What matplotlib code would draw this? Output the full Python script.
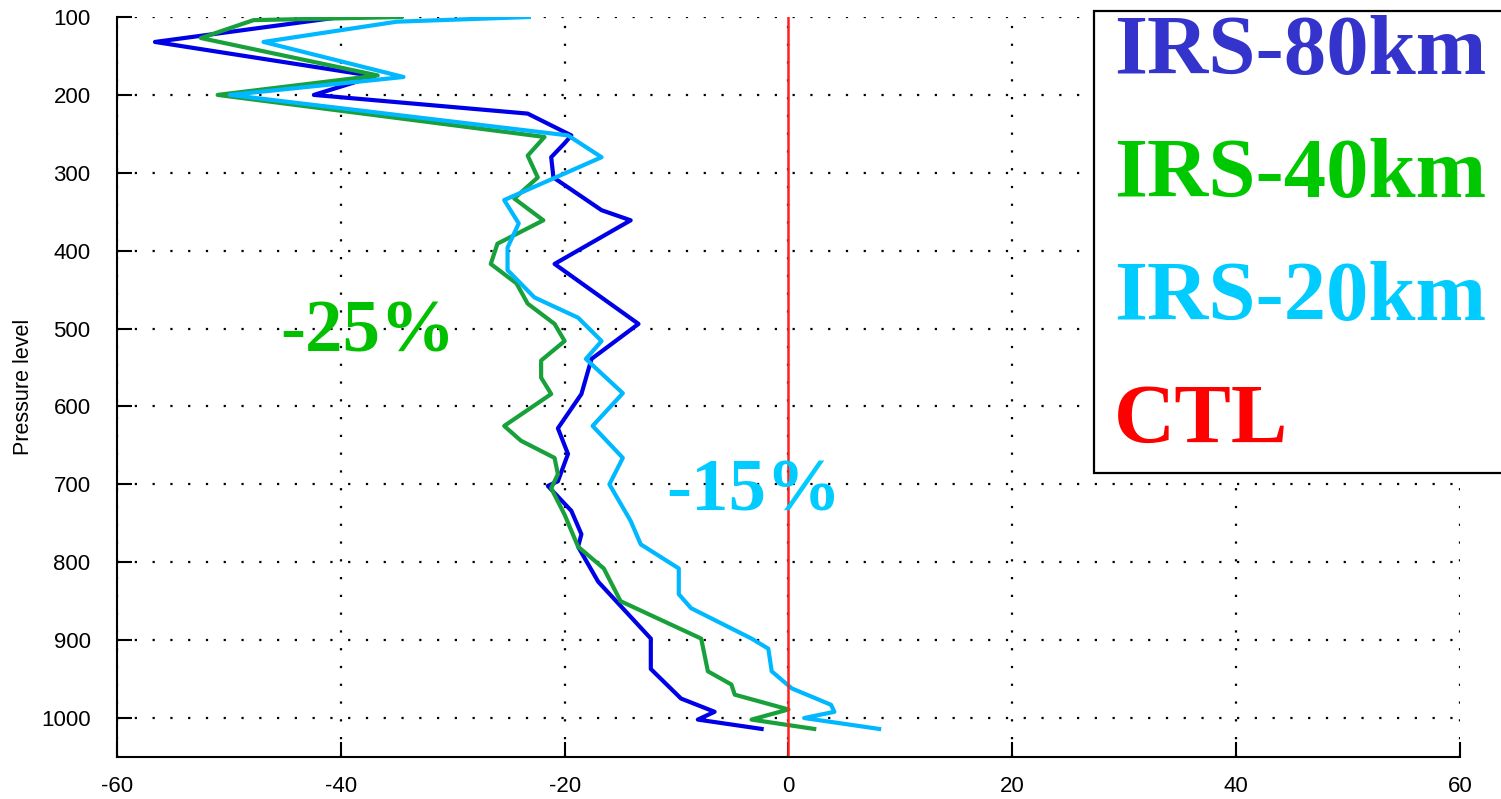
import matplotlib
matplotlib.use("Agg")
import matplotlib.pyplot as plt
from matplotlib.patches import Rectangle

plt.rcParams["axes.unicode_minus"] = False

# bias profiles (%) against pressure level (hPa)
p_80 = [100, 132, 176, 200, 224, 252, 262, 280, 306, 348, 361, 417, 494, 539,
        584, 628, 661, 696, 702, 734, 764, 780, 825, 898, 937, 975, 992, 1002, 1014]
x_80 = [-40.0, -56.6, -37.0, -42.4, -23.3, -19.4, -20.0, -21.2, -21.0, -16.7, -14.1, -20.9, -13.4, -17.6,
        -18.5, -20.6, -19.7, -20.6, -21.5, -19.4, -18.5, -18.8, -17.0, -12.3, -12.3, -9.6, -6.6, -8.1, -2.4]

p_40 = [100, 104, 127, 175, 200, 254, 278, 306, 333, 361, 391, 417, 442, 468, 494, 516, 541, 563,
        584, 625, 644, 666, 687, 705, 739, 780, 808, 850, 898, 940, 957, 970, 989, 1002, 1014]
x_40 = [-34.6, -47.8, -52.5, -36.7, -51.0, -21.8, -23.3, -22.4, -24.5, -21.9, -26.0, -26.6, -24.3, -23.3,
        -20.9, -20.0, -22.1, -22.1, -21.2, -25.4, -23.9, -20.9, -20.6, -21.2, -20.0, -18.8, -16.5, -15.0,
        -7.8, -7.2, -5.1, -4.8, 0.0, -3.3, 2.3]

p_20 = [100, 106, 132, 177, 200, 252, 280, 335, 365, 396, 425, 460, 486, 516, 539, 583, 625, 666,
        700, 747, 777, 808, 841, 859, 898, 911, 940, 962, 983, 992, 1000, 1014]
x_20 = [-23.2, -35.0, -46.9, -34.4, -49.9, -19.7, -16.7, -25.4, -24.1, -25.1, -25.1, -22.7, -18.8, -16.7,
        -18.1, -14.8, -17.5, -14.8, -16.0, -14.1, -13.2, -9.8, -9.8, -8.7, -3.3, -1.8, -1.5, 0.3, 3.8,
        4.1, 1.4, 8.1]

ctl_p = [100, 1050]
ctl_x = [0, 0]

legend_labels = ["IRS-80km", "IRS-40km", "IRS-20km", "CTL"]
legend_colors = ["#3434cc", "#00c800", "#00ccff", "#ff0000"]

fig = plt.figure(figsize=(15.01, 7.99), dpi=100)
ax = fig.add_axes([0.0779, 0.0526, 0.8948, 0.9261])

ax.plot(x_80, p_80, color="#0000e8", lw=3)
ax.plot(x_40, p_40, color="#18a03a", lw=3)
ax.plot(x_20, p_20, color="#00b8ff", lw=3)
ax.plot(ctl_x, ctl_p, color="#ff2020", lw=1.8)

ax.set_xlim(-60, 60)
ax.set_ylim(1050, 100)
ax.set_xticks(range(-60, 61, 20))
ax.set_yticks(range(100, 1001, 100))
ax.grid(True, color="black", linestyle=(0, (1, 7)), linewidth=1.6)
ax.set_axisbelow(True)

for side in ["top", "right"]:
    ax.spines[side].set_visible(False)
for side in ["left", "bottom"]:
    ax.spines[side].set_linewidth(1.5)
ax.tick_params(direction="in", length=11, width=1.5, labelsize=16)
ax.tick_params(axis="y", pad=19)
ax.tick_params(axis="x", pad=14)
for lab in ax.get_xticklabels() + ax.get_yticklabels():
    lab.set_family("Liberation Sans")
ax.set_ylabel("Pressure level", fontsize=15.5, family="Liberation Sans", labelpad=5)

ax.text(-45.4, 529, "-25%", color="#00c000", fontsize=54, fontweight="bold",
        family="Liberation Serif", va="baseline", ha="left")
ax.text(-10.9, 734, "-15%", color="#00ccff", fontsize=54, fontweight="bold",
        family="Liberation Serif", va="baseline", ha="left")

# legend box drawn by hand in figure coordinates
box = Rectangle((1094 / 1501, 1 - 473 / 799), 420 / 1501, 462 / 799,
                transform=fig.transFigure, facecolor="white", edgecolor="black",
                linewidth=1.6, zorder=5, clip_on=False)
fig.patches.append(box)
baselines = [74, 197, 320, 443]
for lab, col, yb in zip(legend_labels, legend_colors, baselines):
    fig.text(1114 / 1501, 1 - yb / 799, lab, color=col, fontsize=61, fontweight="bold",
             family="Liberation Serif", va="baseline", ha="left", zorder=6)

fig.savefig("out.png", dpi=100)
